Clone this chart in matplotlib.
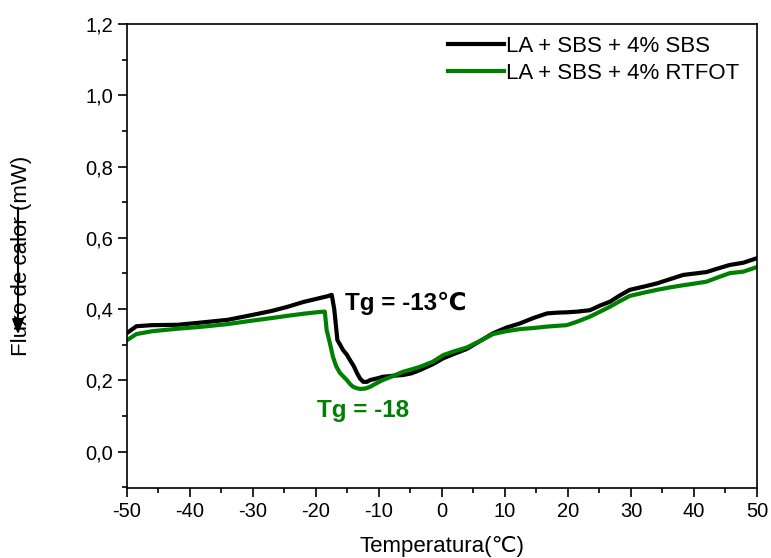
import matplotlib.pyplot as plt
from matplotlib.ticker import MultipleLocator, FuncFormatter

plt.rcParams["font.family"] = ["Liberation Sans", "DejaVu Sans"]
plt.rcParams["axes.unicode_minus"] = False

# DSC curves
temp_sbs = [-50, -48.5, -46, -42, -38.4, -34, -30, -27, -24.6, -22, -19.4, -18.2, -17.5,
            -17.1, -16.6, -16.1, -15.7, -15.1, -14.6, -14.0, -13.5, -13.0, -12.5, -11.9,
            -11.4, -10.2, -9.4, -7.8, -6.2, -4.8, -3.5, -1.5, 0.2, 2.0, 3.9, 6.0, 8.1,
            10.2, 12.4, 14.5, 16.7, 18.2, 19.8, 21.5, 23.5, 25.1, 26.7, 28.2, 29.8, 32.0,
            34.1, 36.2, 38.3, 40.2, 42.0, 43.8, 45.7, 47.8, 50.0]
flux_sbs = [0.333, 0.352, 0.355, 0.356, 0.362, 0.370, 0.384, 0.395, 0.406, 0.420, 0.431,
            0.436, 0.440, 0.400, 0.313, 0.298, 0.285, 0.272, 0.257, 0.240, 0.221, 0.205,
            0.196, 0.196, 0.201, 0.206, 0.210, 0.213, 0.215, 0.220, 0.229, 0.245, 0.262,
            0.275, 0.288, 0.310, 0.332, 0.348, 0.360, 0.375, 0.388, 0.390, 0.391, 0.393,
            0.397, 0.410, 0.421, 0.438, 0.454, 0.463, 0.472, 0.484, 0.496, 0.500, 0.504,
            0.514, 0.524, 0.530, 0.543]

temp_rtfot = [-50, -48.5, -46, -42, -38.4, -34, -30, -27, -24.6, -22, -19.4, -18.6, -18.3,
              -17.8, -17.3, -16.8, -16.2, -15.6, -15.1, -14.6, -14.1, -13.5, -13.0, -12.2,
              -11.4, -10.4, -9.4, -7.8, -6.2, -4.8, -3.5, -1.5, 0.2, 2.0, 3.9, 6.0, 8.1,
              10.2, 12.4, 14.5, 16.7, 18.2, 19.8, 21.5, 23.5, 25.1, 26.7, 28.2, 29.8, 32.0,
              34.1, 36.2, 38.3, 40.2, 42.0, 43.8, 45.7, 47.8, 50.0]
flux_rtfot = [0.313, 0.330, 0.338, 0.345, 0.350, 0.358, 0.368, 0.375, 0.381, 0.387, 0.392,
              0.393, 0.341, 0.305, 0.266, 0.240, 0.221, 0.210, 0.201, 0.190, 0.182, 0.178,
              0.176, 0.177, 0.182, 0.192, 0.201, 0.212, 0.224, 0.231, 0.238, 0.252, 0.271,
              0.282, 0.292, 0.310, 0.330, 0.338, 0.344, 0.347, 0.351, 0.353, 0.355, 0.365,
              0.379, 0.393, 0.407, 0.422, 0.437, 0.446, 0.454, 0.461, 0.467, 0.472, 0.477,
              0.489, 0.501, 0.505, 0.518]

label_sbs = "LA + SBS + 4% SBS"
label_rtfot = "LA + SBS + 4% RTFOT"
tg_sbs_text = "Tg = -13\u2103"
tg_rtfot_text = "Tg = -18"
tg_sbs_pos = (-15.4, 0.415)
tg_rtfot_pos = (-19.8, 0.115)

fig = plt.figure(figsize=(7.71, 5.58), dpi=100)
ax = fig.add_axes([0.1647, 0.1254, 0.8171, 0.8316])

ax.plot(temp_sbs, flux_sbs, color="black", lw=3, label=label_sbs)
ax.plot(temp_rtfot, flux_rtfot, color="green", lw=3, label=label_rtfot)

ax.text(*tg_sbs_pos, tg_sbs_text, fontsize=17.5, fontweight="bold", color="black",
        va="center", ha="left")
ax.text(*tg_rtfot_pos, tg_rtfot_text, fontsize=17.5, fontweight="bold", color="green",
        va="center", ha="left")

ax.set_xlim(-50, 50)
ax.set_ylim(-0.102, 1.2)
ax.xaxis.set_major_locator(MultipleLocator(10))
ax.xaxis.set_minor_locator(MultipleLocator(5))
ax.yaxis.set_major_locator(MultipleLocator(0.2))
ax.yaxis.set_minor_locator(MultipleLocator(0.1))
ax.yaxis.set_major_formatter(FuncFormatter(lambda v, p: f"{v:.1f}".replace(".", ",").replace("-0,0", "0,0")))
ax.tick_params(which="both", direction="out", top=False, right=False, labelsize=14.5, width=1.2)
ax.tick_params(which="major", length=6.5)
ax.tick_params(which="minor", length=3.5)
for sp in ax.spines.values():
    sp.set_linewidth(1.2)

ax.set_xlabel("Temperatura(\u2103)", fontsize=16, va="top")
ax.xaxis.set_label_coords(0.5, -0.103)
ax.set_ylabel("Fluxo de calor (mW)", fontsize=16)
ax.yaxis.set_label_coords(-0.150, 0.5)

ax.annotate("", xy=(-0.173, 0.325), xytext=(-0.173, 0.61), xycoords="axes fraction",
            arrowprops=dict(arrowstyle="-|>,head_length=0.9,head_width=0.35",
                            color="black", lw=1.5))

ax.legend(loc="upper left", bbox_to_anchor=(0.492, 0.999), frameon=False, fontsize=16,
          handlelength=2.5, handletextpad=0.1, borderpad=0, labelspacing=0.3)

fig.savefig("out.png", dpi=100)
plt.close(fig)
